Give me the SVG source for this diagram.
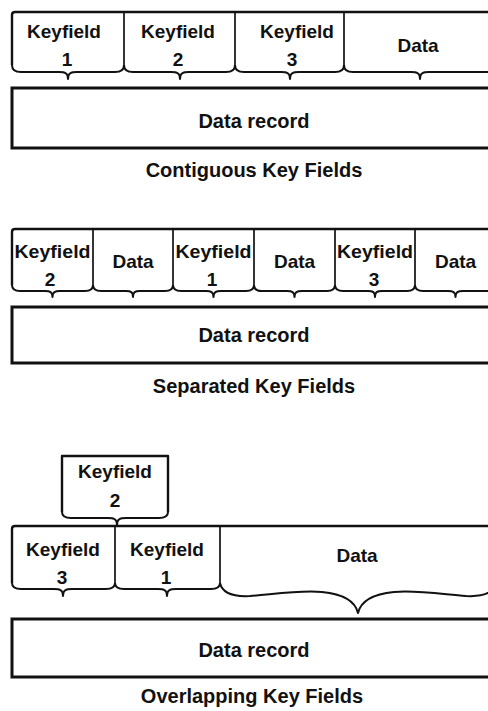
<svg xmlns="http://www.w3.org/2000/svg" width="488" height="711" viewBox="0 0 488 711">
<style>
  .frame { fill: none; stroke: #111; stroke-width: 2.4; stroke-linejoin: round; }
  .div { fill: none; stroke: #111; stroke-width: 1.7; }
  .brace { fill: none; stroke: #111; stroke-width: 2; stroke-linejoin: round; }
  .rec { fill: none; stroke: #111; stroke-width: 3; }
  text { font-family: "Liberation Sans", Arial, Helvetica, sans-serif; font-weight: bold; fill: #111; text-anchor: middle; }
  .lbl { font-size: 19px; }
  .big { font-size: 20px; }
</style>
<rect width="488" height="711" fill="#fff"/>

<!-- Section 1: Contiguous -->
<g id="contiguous">
  <path class="frame" d="M12,65 L12,15 Q12,12 15,12 L500,12"/>
  <g class="div">
    <line x1="124" y1="12" x2="124" y2="65"/>
    <line x1="235" y1="12" x2="235" y2="65"/>
    <line x1="344" y1="12" x2="344" y2="65"/>
  </g>
  <g class="brace">
    <path d="M12,65 C12,70 15,72 21,72 L59,72 C65,72 68,73 68,79 C68,73 71,72 77,72 L115,72 C121,72 124,70 124,65"/>
    <path d="M124,65 C124,70 127,72 133,72 L171,72 C177,72 180,73 180,79 C180,73 183,72 189,72 L226,72 C232,72 235,70 235,65"/>
    <path d="M235,65 C235,70 238,72 244,72 L281,72 C287,72 290,73 290,79 C290,73 293,72 299,72 L335,72 C341,72 344,70 344,65"/>
    <path d="M344,65 C344,70 347,72 353,72 L411,72 C417,72 420,73 420,79 C420,73 423,72 429,72 L487,72 C493,72 496,70 496,65"/>
  </g>
  <g id="c-kf1"><text class="lbl" x="64" y="38">Keyfield</text><text class="lbl" x="67" y="66">1</text></g>
  <g id="c-kf2"><text class="lbl" x="178" y="38">Keyfield</text><text class="lbl" x="178" y="66">2</text></g>
  <g id="c-kf3"><text class="lbl" x="297" y="38">Keyfield</text><text class="lbl" x="292" y="66">3</text></g>
  <g id="c-data"><text class="lbl" x="418" y="52">Data</text></g>
  <g id="c-record">
    <rect class="rec" x="12" y="88" width="490" height="60"/>
    <text class="big" x="254" y="128">Data record</text>
  </g>
  <text class="big" x="254" y="177">Contiguous Key Fields</text>
</g>

<!-- Section 2: Separated -->
<g id="separated">
  <path class="frame" d="M12,285 L12,232 Q12,229 15,229 L500,229"/>
  <g class="div">
    <line x1="93" y1="229" x2="93" y2="285"/>
    <line x1="173" y1="229" x2="173" y2="285"/>
    <line x1="254" y1="229" x2="254" y2="285"/>
    <line x1="335" y1="229" x2="335" y2="285"/>
    <line x1="415" y1="229" x2="415" y2="285"/>
  </g>
  <g class="brace">
    <path d="M12,285 C12,289 14,291 20,291 L45,291 C50,291 52.5,292 52.5,297 C52.5,292 55,291 60,291 L85,291 C91,291 93,289 93,285"/>
    <path d="M93,285 C93,289 95,291 101,291 L126,291 C131,291 133,292 133,297 C133,292 135,291 140,291 L165,291 C171,291 173,289 173,285"/>
    <path d="M173,285 C173,289 175,291 181,291 L206,291 C211,291 213.5,292 213.5,297 C213.5,292 216,291 221,291 L246,291 C252,291 254,289 254,285"/>
    <path d="M254,285 C254,289 256,291 262,291 L287,291 C292,291 294.5,292 294.5,297 C294.5,292 297,291 302,291 L327,291 C333,291 335,289 335,285"/>
    <path d="M335,285 C335,289 337,291 343,291 L368,291 C373,291 375,292 375,297 C375,292 377,291 382,291 L407,291 C413,291 415,289 415,285"/>
    <path d="M415,285 C415,289 417,291 423,291 L448,291 C453,291 455.5,292 455.5,297 C455.5,292 458,291 463,291 L488,291 C494,291 496,289 496,285"/>
  </g>
  <g id="s-kf2"><text class="lbl" x="52.5" y="258" textLength="76" lengthAdjust="spacingAndGlyphs">Keyfield</text><text class="lbl" x="50" y="286">2</text></g>
  <g id="s-d1"><text class="lbl" x="133" y="268">Data</text></g>
  <g id="s-kf1"><text class="lbl" x="213.5" y="258" textLength="76" lengthAdjust="spacingAndGlyphs">Keyfield</text><text class="lbl" x="212" y="286">1</text></g>
  <g id="s-d2"><text class="lbl" x="294.5" y="268">Data</text></g>
  <g id="s-kf3"><text class="lbl" x="375" y="258" textLength="76" lengthAdjust="spacingAndGlyphs">Keyfield</text><text class="lbl" x="374" y="286">3</text></g>
  <g id="s-d3"><text class="lbl" x="455.5" y="268">Data</text></g>
  <g id="s-record">
    <rect class="rec" x="12" y="307" width="490" height="56"/>
    <text class="big" x="254" y="342">Data record</text>
  </g>
  <text class="big" x="254" y="393">Separated Key Fields</text>
</g>

<!-- Section 3: Overlapping -->
<g id="overlapping">
  <g id="o-kf2">
    <path class="frame" d="M62,512 L62,456 L168,456 L168,512"/>
    <path class="brace" d="M62,512 C62,516 65,518 71,518 L108,518 C114,518 117,519 117,525 C117,519 120,518 126,518 L159,518 C165,518 168,516 168,512"/>
    <text class="lbl" x="115" y="478">Keyfield</text>
    <text class="lbl" x="115" y="507">2</text>
  </g>
  <path class="frame" d="M12,583 L12,529 Q12,526 15,526 L500,526"/>
  <g class="div">
    <line x1="115" y1="526" x2="115" y2="583"/>
    <line x1="220" y1="526" x2="220" y2="583"/>
  </g>
  <g class="brace">
    <path d="M12,583 C12,587 15,589 21,589 L54,589 C60,589 63,590 63,596 C63,590 66,589 72,589 L106,589 C112,589 115,587 115,583"/>
    <path d="M115,583 C115,587 118,589 124,589 L158,589 C164,589 167,590 167,596 C167,590 170,589 176,589 L211,589 C217,589 220,587 220,583"/>
    <path d="M220,583 C222,592 232,597 250,596 C275,594 300,590 322,592 C342,594 355,600 358,613 C361,600 374,594 394,592 C416,590 441,594 466,596 C484,597 494,592 496,583"/>
  </g>
  <g id="o-kf3"><text class="lbl" x="63" y="556">Keyfield</text><text class="lbl" x="62" y="584">3</text></g>
  <g id="o-kf1"><text class="lbl" x="167" y="556">Keyfield</text><text class="lbl" x="166" y="584">1</text></g>
  <g id="o-data"><text class="lbl" x="357" y="562">Data</text></g>
  <g id="o-record">
    <rect class="rec" x="12" y="619" width="490" height="58"/>
    <text class="big" x="254" y="657">Data record</text>
  </g>
  <text class="big" x="252" y="703">Overlapping Key Fields</text>
</g>
</svg>
